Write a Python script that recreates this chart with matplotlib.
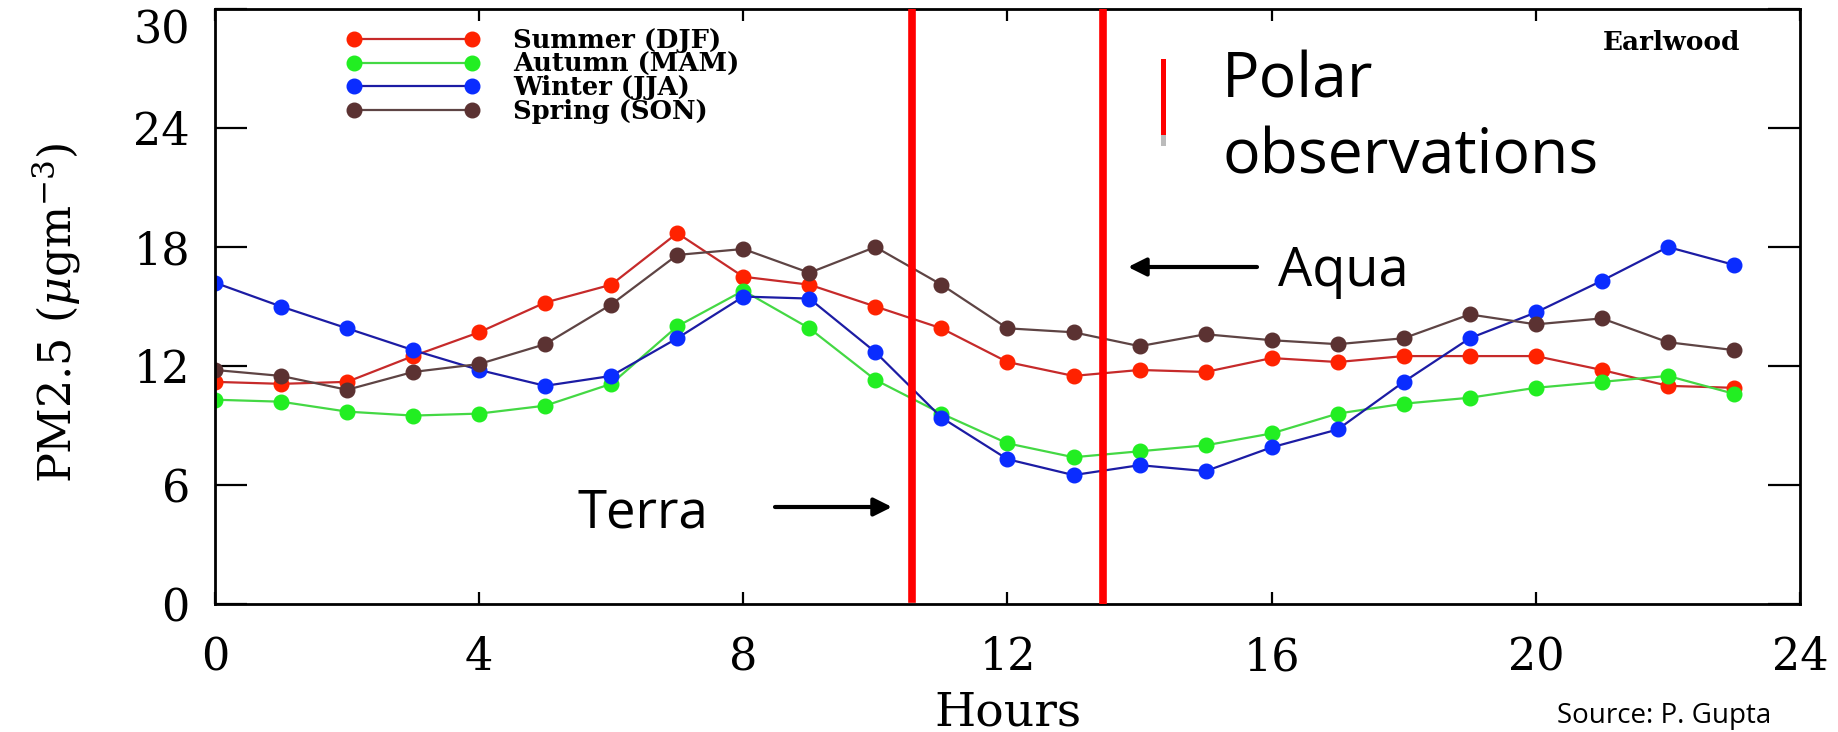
import matplotlib
matplotlib.use('Agg')
import matplotlib.pyplot as plt
from matplotlib.lines import Line2D

# ---------------- data ----------------
hours = list(range(24))
summer_djf = [11.2, 11.1, 11.2, 12.5, 13.7, 15.2, 16.1, 18.7, 16.5, 16.1, 15.0, 13.9,
              12.2, 11.5, 11.8, 11.7, 12.4, 12.2, 12.5, 12.5, 12.5, 11.8, 11.0, 10.9]
autumn_mam = [10.3, 10.2, 9.7, 9.5, 9.6, 10.0, 11.1, 14.0, 15.8, 13.9, 11.3, 9.6,
              8.1, 7.4, 7.7, 8.0, 8.6, 9.6, 10.1, 10.4, 10.9, 11.2, 11.5, 10.6]
winter_jja = [16.2, 15.0, 13.9, 12.8, 11.8, 11.0, 11.5, 13.4, 15.5, 15.4, 12.7, 9.4,
              7.3, 6.5, 7.0, 6.7, 7.9, 8.8, 11.2, 13.4, 14.7, 16.3, 18.0, 17.1]
spring_son = [11.8, 11.5, 10.8, 11.7, 12.1, 13.1, 15.1, 17.6, 17.9, 16.7, 18.0, 16.1,
              13.9, 13.7, 13.0, 13.6, 13.3, 13.1, 13.4, 14.6, 14.1, 14.4, 13.2, 12.8]
series_labels = ['Summer (DJF)', 'Autumn (MAM)', 'Winter (JJA)', 'Spring (SON)']
x_ticks = [0, 4, 8, 12, 16, 20, 24]
y_ticks = [0, 6, 12, 18, 24, 30]
terra_hour = 10.55
aqua_hour = 13.45

# ---------------- styles ----------------
line_colors = ['#c62a2a', '#44d844', '#1c1ca4', '#5e4444']
marker_colors = ['#ff2200', '#22ee22', '#0a2cff', '#5b3232']

plt.rcParams['font.family'] = ['DejaVu Serif']
plt.rcParams['mathtext.fontset'] = 'dejavuserif'

W, H = 1838, 732
fig = plt.figure(figsize=(W / 100, H / 100), dpi=100)


def fx(px):
    return px / W


def fy(py):
    return 1 - py / H


ax = fig.add_axes([fx(215), fy(604), fx(1800) - fx(215), fy(9) - fy(604)])

for vals, lab, lc, mc in zip([summer_djf, autumn_mam, winter_jja, spring_son],
                             series_labels, line_colors, marker_colors):
    ax.plot(hours, vals, '-', color=lc, lw=1.6, marker='o', ms=10.5,
            mfc=mc, mec=mc, label=lab)

ax.set_xlim(0, 24)
ax.set_ylim(0, 30)
ax.set_xticks(x_ticks)
ax.set_yticks(y_ticks)
ax.tick_params(axis='both', direction='in', top=True, right=True, width=1.6,
               labelsize=32, colors='black')
ax.tick_params(axis='x', length=8.6, pad=23)
ax.tick_params(axis='y', length=23, pad=18)
# the top label sits just below the frame top, as in the source chart
ax.yaxis.get_major_ticks()[-1].label1.set_va('top')
for sp in ax.spines.values():
    sp.set_linewidth(2)

ax.set_xlabel('Hours', fontsize=34)
ax.xaxis.label.set_va('baseline')
ax.xaxis.set_label_coords(0.5, (604 - 725) / 595)
ax.set_ylabel(r'PM2.5 ($\mu$gm$^{-3}$)', fontsize=32)
ax.yaxis.set_label_coords((83 - 215) / 1585, 0.49)

leg = ax.legend(loc='upper left', bbox_to_anchor=(fx(346), fy(28)),
                bbox_transform=fig.transFigure, frameon=False,
                prop=dict(family='DejaVu Serif', weight='bold', size=18.5),
                handlelength=5.2, handletextpad=1.3, labelspacing=-0.05,
                borderpad=0, borderaxespad=0, numpoints=2)

# satellite overpass lines
ax.axvline(terra_hour, ymin=0.008, ymax=1.0, color='#ff0000', lw=5.5, zorder=6)
ax.axvline(aqua_hour, ymin=0.002, ymax=0.997, color='#ff0000', lw=5.5, zorder=6)

# texts
fig.text(fx(1740), fy(50), 'Earlwood', ha='right', va='baseline',
         family='DejaVu Serif', weight='bold', fontsize=19)
fig.text(fx(1222), fy(97), 'Polar', ha='left', va='baseline',
         family='Open Sans', fontsize=45)
fig.text(fx(1222), fy(174), 'observations', ha='left', va='baseline',
         family='Open Sans', fontsize=45)
fig.add_artist(Line2D([fx(1163)] * 2, [fy(61), fy(137)], color='#ff0000', lw=3.6))
fig.add_artist(Line2D([fx(1163)] * 2, [fy(137), fy(143)], color='#bbbbbb', lw=3.6))

fig.text(fx(1278), fy(286), 'Aqua', ha='left', va='baseline',
         family='Open Sans', fontsize=39)
fig.text(fx(577), fy(527), 'Terra', ha='left', va='baseline',
         family='Open Sans', fontsize=38)

arrow_kw = dict(arrowstyle='-|>', color='black', lw=3, mutation_scale=27,
                shrinkA=0, shrinkB=0)
ax.annotate('', xy=(fx(892), fy(507)), xycoords='figure fraction',
            xytext=(fx(775), fy(507)), textcoords='figure fraction',
            arrowprops=arrow_kw)
ax.annotate('', xy=(fx(1128), fy(267)), xycoords='figure fraction',
            xytext=(fx(1257), fy(267)), textcoords='figure fraction',
            arrowprops=arrow_kw)

fig.text(fx(1557), fy(723), 'Source: P. Gupta', ha='left', va='baseline',
         family='Open Sans', fontsize=20)

fig.savefig('out.png', dpi=100)
